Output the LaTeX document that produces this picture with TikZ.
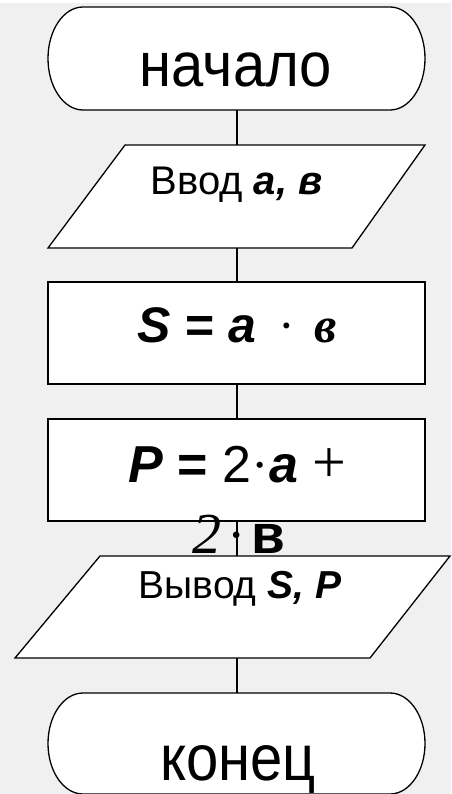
\documentclass[tikz,border=0pt]{standalone}
\usepackage{fontspec}
\setmainfont{Liberation Sans}
\newfontfamily\serifrm{Liberation Serif}
\definecolor{bgc}{RGB}{240,240,240}
\tikzset{
  shapeline/.style={draw=black, line width=1.3pt, fill=white, line join=miter},
  conn/.style={draw=black, line width=1.3pt},
  lbl/.style={anchor=base, inner sep=0pt, text=black},
}
\begin{document}
\begin{tikzpicture}[x=1pt,y=-1pt]
\fill[bgc] (0,0) rectangle (451,794);
\fill[white] (0,0) rectangle (451,3);
\useasboundingbox (0,0) rectangle (451,794);

% shapes
\draw[shapeline] (83,7) -- (390,7) arc[start angle=-90,end angle=90,x radius=35,y radius=51.5] -- (83,110) arc[start angle=90,end angle=270,x radius=35,y radius=51.5] -- cycle;
\draw[shapeline] (125,145) -- (425,145) -- (352,248) -- (48,248) -- cycle;
\draw[shapeline] (48,282) rectangle (425,384);
\draw[shapeline] (48,419) rectangle (425,521);
\draw[shapeline] (100,556) -- (450,556) -- (370,658) -- (15,658) -- cycle;
\draw[shapeline] (83,693) -- (390,693) arc[start angle=-90,end angle=90,x radius=35,y radius=50.5] -- (83,794) arc[start angle=90,end angle=270,x radius=35,y radius=50.5] -- cycle;

% connector end points
\coordinate (startS) at (237,110);
\coordinate (inN) at (237,145);
\coordinate (inS) at (237,248);
\coordinate (sN) at (237,282);
\coordinate (sS) at (237,384);
\coordinate (pN) at (237,419);
\coordinate (pS) at (237,521);
\coordinate (outN) at (237,556);
\coordinate (outS) at (237,658);
\coordinate (endN) at (237,693);

% texts
\node[lbl, font=\fontsize{58}{60}\selectfont] (tstart) at (236,87) {\scalebox{1}[1.08]{начало}};
\node[lbl, font=\fontsize{40}{42}\selectfont] (tin) at (236.5,195) {Ввод \textbf{\textit{a, в}}};
\node[lbl, font=\fontsize{50}{52}\selectfont] (ts) at (237.5,342) {\textbf{\textit{S}} \textbf{=} \textbf{\textit{a}}\hspace{22pt}{\serifrm·}\hspace{20pt}{\serifrm\bfseries\itshape в}};
\node[lbl, font=\fontsize{52}{54}\selectfont] (tp1) at (237.5,482) {\textbf{\textit{P}} \textbf{=} 2{\serifrm·}\textbf{\textit{a}} {\serifrm\fontsize{60}{60}\selectfont +}};
\node[lbl, font=\fontsize{55}{56}\selectfont] (tp2) at (239,553) {{\serifrm\itshape\fontsize{58}{60}\selectfont 2}\hspace{6pt}{\serifrm·}\hspace{6pt}\textbf{в}};
\node[lbl, font=\fontsize{39}{40}\selectfont] (tout) at (240,598) {Вывод \textbf{\textit{S, P}}};
\node[lbl, font=\fontsize{58}{60}\selectfont] (tend) at (238,780) {\scalebox{1}[1.12]{конец}};

% connectors
\draw[conn] (startS) -- (inN);
\draw[conn] (inS) -- (sN);
\draw[conn] (sS) -- (pN);
\draw[conn] (pS) -- (outN);
\draw[conn] (outS) -- (endN);
\end{tikzpicture}
\end{document}
